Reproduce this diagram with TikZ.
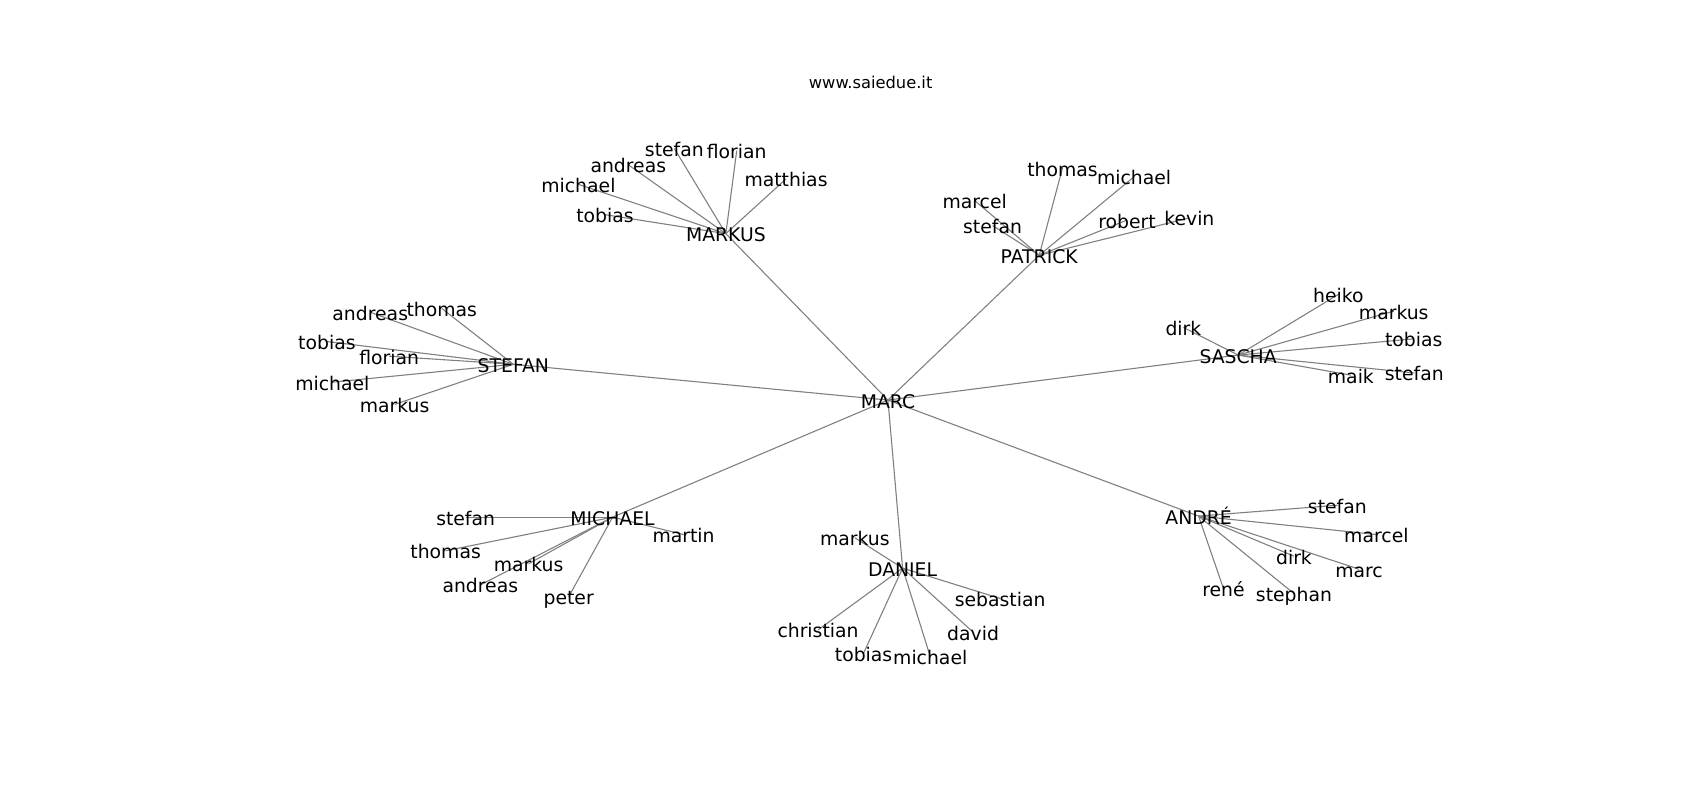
\documentclass[tikz,border=0pt]{standalone}
\usepackage{fontspec}
\setmainfont{DejaVu Sans}
\begin{document}
\begin{tikzpicture}[x=1.08418pt,y=-1.08418pt,
  lbl/.style={anchor=base,inner sep=0pt,outer sep=0pt,yshift=-8pt,font=\fontsize{18.8pt}{22pt}\selectfont,text=black},
  titlelbl/.style={anchor=base,inner sep=0pt,font=\fontsize{16.3pt}{19pt}\selectfont,text=black},
  edge/.style={draw=black!50,line width=1.1pt}]
\useasboundingbox (0,0) rectangle (1568,738);
% coordinates of all nodes
\foreach \n/\x/\y in {
  MARC/819/369, MARKUS/669.5/215.5, PATRICK/958.5/235.5, STEFAN/473.5/336,
  SASCHA/1142/327.5, MICHAEL/565/477, DANIEL/832.5/524, ANDRE/1105.5/476,
  mk1/622/137, mk2/679.5/139, mk3/579.5/152, mk4/725/165, mk5/533.5/170, mk6/558/198,
  pa1/980/155, pa2/1046/163, pa3/899/185, pa4/915.5/208, pa5/1039.5/203, pa6/1097/201,
  st1/341.5/288, st2/407.5/284.5, st3/301.5/315, st4/359/328.5, st5/306.5/352.5, st6/364/373,
  sa1/1234.5/271.5, sa2/1091.5/302, sa3/1285.5/287, sa4/1304/312.5, sa5/1246/346, sa6/1304.5/344,
  mi1/429.5/477, mi2/630.5/493, mi3/411/508, mi4/487.5/520, mi5/443/539.5, mi6/524.5/550.5,
  da1/788.5/496, da2/922.5/552, da3/754.5/581, da4/897.5/583, da5/796.5/602.5, da6/858/605.5,
  an1/1233.5/466, an2/1269.5/493, an3/1193.5/513, an4/1253.5/525, an5/1128.5/543, an6/1193.5/547.5}
  {\coordinate (\n) at (\x,\y);}
% edges
\foreach \a/\b in {MARC/MARKUS, MARC/PATRICK, MARC/STEFAN, MARC/SASCHA, MARC/MICHAEL, MARC/DANIEL, MARC/ANDRE}
  {\draw[edge] (\a) -- (\b);}
\foreach \h/\p in {MARKUS/mk, PATRICK/pa, STEFAN/st, SASCHA/sa, MICHAEL/mi, DANIEL/da, ANDRE/an}
  {\foreach \i in {1,...,6} {\draw[edge] (\h) -- (\p\i);}}
% labels
\node[titlelbl] (title) at (803,81.5) {www.saiedue.it};
\foreach \n/\t in {
  MARC/MARC, MARKUS/MARKUS, PATRICK/PATRICK, STEFAN/STEFAN, SASCHA/SASCHA,
  MICHAEL/MICHAEL, DANIEL/DANIEL, ANDRE/ANDRÉ,
  mk1/stefan, mk2/florian, mk3/andreas, mk4/matthias, mk5/michael, mk6/tobias,
  pa1/thomas, pa2/michael, pa3/marcel, pa4/stefan, pa5/robert, pa6/kevin,
  st1/andreas, st2/thomas, st3/tobias, st4/florian, st5/michael, st6/markus,
  sa1/heiko, sa2/dirk, sa3/markus, sa4/tobias, sa5/maik, sa6/stefan,
  mi1/stefan, mi2/martin, mi3/thomas, mi4/markus, mi5/andreas, mi6/peter,
  da1/markus, da2/sebastian, da3/christian, da4/david, da5/tobias, da6/michael,
  an1/stefan, an2/marcel, an3/dirk, an4/marc, an5/rené, an6/stephan}
  {\node[lbl] (\n-t) at (\n) {\t};}
\end{tikzpicture}
\end{document}
